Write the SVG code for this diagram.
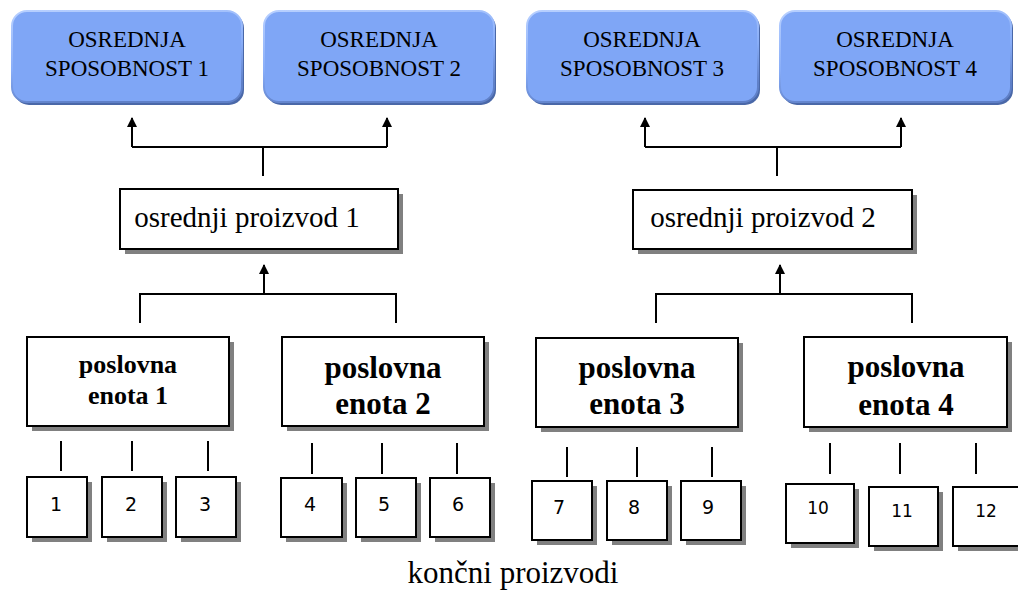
<svg xmlns="http://www.w3.org/2000/svg" width="1018" height="599" viewBox="0 0 1018 599">
  <style>
    .cap-shadow { fill: #4a68a8; }
    .cap { fill: #7fa6f6; stroke: url(#capEdge); stroke-width: 2; }
    .cap-text { font-family: "Liberation Serif", "Times New Roman", serif; font-size: 23px; fill: #000; text-anchor: middle; }
    .shadow { fill: #808080; }
    .box { fill: #fff; stroke: #000; stroke-width: 2; }
    .prod-text { font-family: "Liberation Serif", "Times New Roman", serif; font-size: 29px; fill: #000; text-anchor: middle; }
    .unit-text { font-family: "Liberation Serif", "Times New Roman", serif; font-weight: bold; font-size: 31px; fill: #000; text-anchor: middle; }
    .unit-text.small { font-size: 26px; }
    .num { font-family: "DejaVu Sans", Verdana, sans-serif; font-size: 19px; fill: #000; text-anchor: middle; }
    .num.small { font-size: 17px; }
    .label { font-family: "Liberation Serif", "Times New Roman", serif; font-size: 31px; fill: #000; text-anchor: middle; }
    .line { fill: none; stroke: #000; stroke-width: 2; }
  </style>
  <defs>
    <linearGradient id="capEdge" x1="0" y1="0" x2="0.3" y2="1">
      <stop offset="0" stop-color="#b8d0ff"/>
      <stop offset="0.6" stop-color="#88adf8"/>
      <stop offset="1" stop-color="#5f80c8"/>
    </linearGradient>
    <marker id="arrow" viewBox="0 0 10 10" refX="9" refY="5" markerWidth="10" markerHeight="10" markerUnits="userSpaceOnUse" orient="auto">
      <path d="M0,0 L10,5 L0,10 Z" fill="#000"/>
    </marker>
  </defs>

  <!-- core capabilities -->
  <g id="capability-1">
    <rect class="cap-shadow" x="14" y="13" width="230" height="92" rx="15"/>
    <rect class="cap" x="12" y="11" width="230" height="91" rx="15"/>
    <text class="cap-text" x="127" y="47">OSREDNJA</text>
    <text class="cap-text" x="127" y="76">SPOSOBNOST 1</text>
  </g>
  <g id="capability-2">
    <rect class="cap-shadow" x="266" y="13" width="230" height="92" rx="15"/>
    <rect class="cap" x="264" y="11" width="230" height="91" rx="15"/>
    <text class="cap-text" x="379" y="47">OSREDNJA</text>
    <text class="cap-text" x="379" y="76">SPOSOBNOST 2</text>
  </g>
  <g id="capability-3">
    <rect class="cap-shadow" x="529" y="13" width="231" height="92" rx="15"/>
    <rect class="cap" x="527" y="11" width="231" height="91" rx="15"/>
    <text class="cap-text" x="642" y="47">OSREDNJA</text>
    <text class="cap-text" x="642" y="76">SPOSOBNOST 3</text>
  </g>
  <g id="capability-4">
    <rect class="cap-shadow" x="782" y="13" width="231" height="92" rx="15"/>
    <rect class="cap" x="780" y="11" width="231" height="91" rx="15"/>
    <text class="cap-text" x="895" y="47">OSREDNJA</text>
    <text class="cap-text" x="895" y="76">SPOSOBNOST 4</text>
  </g>

  <!-- core products -->
  <g id="product-1">
    <rect class="shadow" x="125" y="194" width="278" height="60"/>
    <rect class="box" x="120" y="189" width="278" height="60"/>
    <text class="prod-text" x="247" y="227">osrednji proizvod 1</text>
  </g>
  <g id="product-2">
    <rect class="shadow" x="638" y="195" width="279" height="59"/>
    <rect class="box" x="633" y="190" width="279" height="59"/>
    <text class="prod-text" x="763" y="227">osrednji proizvod 2</text>
  </g>

  <!-- business units -->
  <g id="unit-1">
    <rect class="shadow" x="32" y="342" width="202" height="89"/>
    <rect class="box" x="27" y="337" width="202" height="89"/>
    <text class="unit-text small" x="128" y="373">poslovna</text>
    <text class="unit-text small" x="128" y="404">enota 1</text>
  </g>
  <g id="unit-2">
    <rect class="shadow" x="287" y="342" width="202" height="89"/>
    <rect class="box" x="282" y="337" width="202" height="89"/>
    <text class="unit-text" x="383" y="378">poslovna</text>
    <text class="unit-text" x="383" y="414">enota 2</text>
  </g>
  <g id="unit-3">
    <rect class="shadow" x="541" y="343" width="202" height="89"/>
    <rect class="box" x="536" y="338" width="202" height="89"/>
    <text class="unit-text" x="637" y="378">poslovna</text>
    <text class="unit-text" x="637" y="414">enota 3</text>
  </g>
  <g id="unit-4">
    <rect class="shadow" x="809" y="342" width="203" height="90"/>
    <rect class="box" x="804" y="337" width="203" height="90"/>
    <text class="unit-text" x="906" y="377">poslovna</text>
    <text class="unit-text" x="906" y="415">enota 4</text>
  </g>

  <!-- end products -->
  <g id="item-1"><rect class="shadow" x="32" y="482" width="60" height="60"/><rect class="box" x="27" y="477" width="60" height="60"/><text class="num" x="56" y="511">1</text></g>
  <g id="item-2"><rect class="shadow" x="107" y="482" width="60" height="60"/><rect class="box" x="102" y="477" width="60" height="60"/><text class="num" x="131" y="511">2</text></g>
  <g id="item-3"><rect class="shadow" x="181" y="482" width="60" height="60"/><rect class="box" x="176" y="477" width="60" height="60"/><text class="num" x="205" y="511">3</text></g>
  <g id="item-4"><rect class="shadow" x="286" y="483" width="61" height="59"/><rect class="box" x="281" y="478" width="61" height="59"/><text class="num" x="310" y="511">4</text></g>
  <g id="item-5"><rect class="shadow" x="361" y="483" width="60" height="59"/><rect class="box" x="356" y="478" width="60" height="59"/><text class="num" x="384" y="511">5</text></g>
  <g id="item-6"><rect class="shadow" x="435" y="483" width="60" height="59"/><rect class="box" x="430" y="478" width="60" height="59"/><text class="num" x="458" y="511">6</text></g>
  <g id="item-7"><rect class="shadow" x="537" y="486" width="60" height="59"/><rect class="box" x="532" y="481" width="60" height="59"/><text class="num" x="559" y="514">7</text></g>
  <g id="item-8"><rect class="shadow" x="612" y="486" width="60" height="59"/><rect class="box" x="607" y="481" width="60" height="59"/><text class="num" x="634" y="514">8</text></g>
  <g id="item-9"><rect class="shadow" x="686" y="486" width="60" height="59"/><rect class="box" x="681" y="481" width="60" height="59"/><text class="num" x="708" y="514">9</text></g>
  <g id="item-10"><rect class="shadow" x="791" y="489" width="68" height="59"/><rect class="box" x="786" y="484" width="68" height="59"/><text class="num small" x="818" y="514">10</text></g>
  <g id="item-11"><rect class="shadow" x="874" y="492" width="69" height="59"/><rect class="box" x="869" y="487" width="69" height="59"/><text class="num small" x="902" y="517">11</text></g>
  <g id="item-12"><rect class="shadow" x="958" y="492" width="69" height="59"/><rect class="box" x="953" y="487" width="69" height="59"/><text class="num small" x="986" y="517">12</text></g>

  <!-- connectors -->
  <g id="connectors">
    <!-- product 1 to capabilities 1 and 2 -->
    <path class="line" d="M263,176 V147"/>
    <path class="line" d="M132,147 H387"/>
    <path class="line" d="M132,147 V118" marker-end="url(#arrow)"/>
    <path class="line" d="M387,147 V118" marker-end="url(#arrow)"/>
    <!-- product 2 to capabilities 3 and 4 -->
    <path class="line" d="M777,176 V147"/>
    <path class="line" d="M645,147 H901"/>
    <path class="line" d="M645,147 V118" marker-end="url(#arrow)"/>
    <path class="line" d="M901,147 V118" marker-end="url(#arrow)"/>
    <!-- units 1 and 2 to product 1 -->
    <path class="line" d="M140,323 V294 H396 V323"/>
    <path class="line" d="M264,294 V265" marker-end="url(#arrow)"/>
    <!-- units 3 and 4 to product 2 -->
    <path class="line" d="M656,323 V294 H912 V323"/>
    <path class="line" d="M780,294 V265" marker-end="url(#arrow)"/>
    <!-- unit ticks above end products -->
    <path class="line" d="M61,441 V471 M132,441 V471 M208,441 V471"/>
    <path class="line" d="M312,443 V474 M382,443 V474 M457,443 V474"/>
    <path class="line" d="M567,447 V477 M637,447 V477 M712,447 V477"/>
    <path class="line" d="M830,443 V474 M900,443 V474 M976,443 V474"/>
  </g>

  <text class="label" x="513" y="583">končni proizvodi</text>
</svg>
